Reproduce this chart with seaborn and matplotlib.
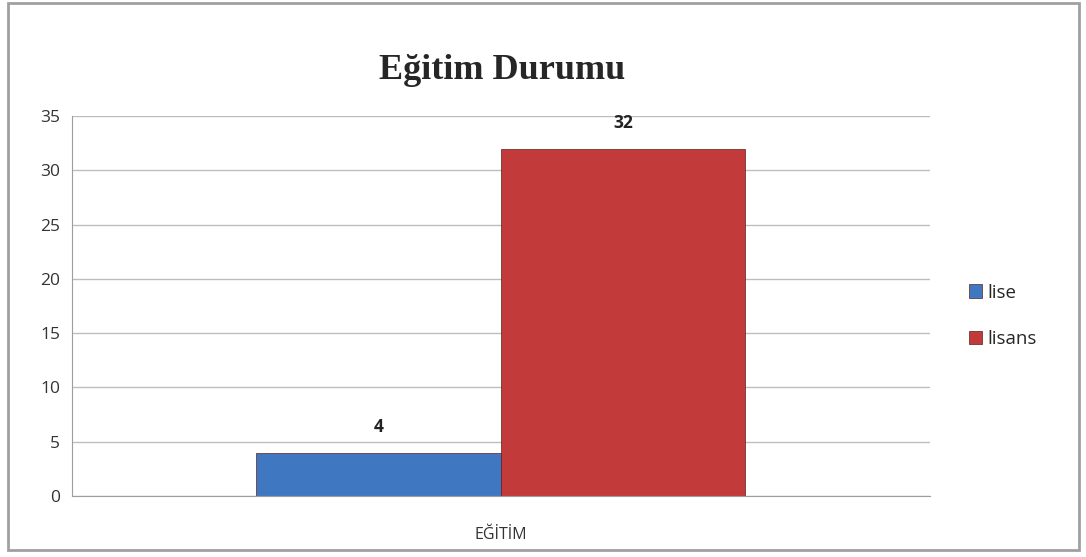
import pandas as pd
import matplotlib.pyplot as plt
import seaborn as sns
from matplotlib.patches import Rectangle

categories = ["EĞİTİM"]
groups = ["lise", "lisans"]
values = [4, 32]
colors = ["#3F78C1", "#C23B3A"]

df = pd.DataFrame({"kategori": categories * len(groups), "grup": groups, "sayi": values})

sns.set_style("white")
plt.rcParams["font.family"] = ["Open Sans", "DejaVu Sans"]

fig = plt.figure(figsize=(10.86, 5.57), dpi=100)
ax = fig.add_axes([0.0663, 0.1095, 0.790, 0.682])

sns.barplot(data=df, x="kategori", y="sayi", hue="grup", palette=colors, saturation=1,
            width=0.57, edgecolor="#5A2020", linewidth=0.5, ax=ax, legend=True)

ax.set_ylim(0, 35)
ax.set_yticks(range(0, 36, 5))
ax.set_xlim(-0.5, 0.5)
ax.grid(axis="y", color="#BDBDBD", linewidth=1)
ax.set_axisbelow(True)
for s in ["top", "right"]:
    ax.spines[s].set_visible(False)
for s in ["left", "bottom"]:
    ax.spines[s].set_color("#9E9E9E")
ax.tick_params(axis="y", length=5, color="#9E9E9E", labelsize=12.5, labelcolor="#333333")
ax.tick_params(axis="x", length=0, labelsize=11.5, labelcolor="#333333", pad=22)
ax.set_xlabel("")
ax.set_ylabel("")

for c in ax.containers:
    ax.bar_label(c, padding=12, fontsize=12.5, fontweight="bold", color="#222222")

ax.legend(loc="center left", bbox_to_anchor=(1.026, 0.475), frameon=False,
          fontsize=13.5, handlelength=0.7, handleheight=0.7, labelspacing=1.5,
          handletextpad=0.3)

fig.text(0.462, 0.873, "Eğitim Durumu", ha="center", va="center",
         fontsize=26, fontweight="bold", family=["Liberation Serif", "DejaVu Serif"])

fig.patches.append(Rectangle((0.007, 0.012), 0.987, 0.983, transform=fig.transFigure,
                             fill=False, edgecolor="#A0A0A0", linewidth=2))

fig.savefig("out.png", dpi=100, facecolor="white")
